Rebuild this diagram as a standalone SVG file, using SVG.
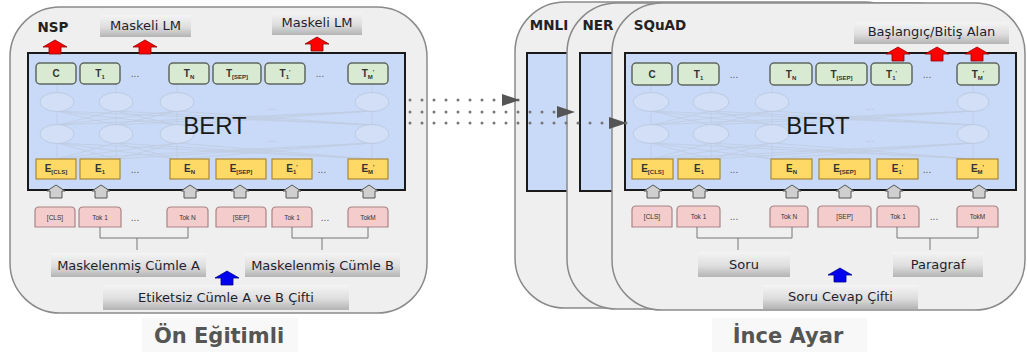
<svg xmlns="http://www.w3.org/2000/svg" width="1027" height="352" viewBox="0 0 1027 352">
<style>
.panel{fill:#efefef;stroke:#8a8a8a;stroke-width:1.5}
.bert{fill:#c9daf8;stroke:#1a1a1a;stroke-width:2}
.tg{fill:#d9ead3;stroke:#5f675f;stroke-width:1.5}
.ey{fill:#ffd966;stroke:#a8893a;stroke-width:1.2}
.tp{fill:#f4cccc;stroke:#a98485;stroke-width:1.2}
.lbl{fill:url(#lbl)}
.lt{font-family:"DejaVu Sans",sans-serif;font-size:13px;fill:#1e1e2e;text-anchor:middle}
.hd{font-family:"DejaVu Sans",sans-serif;font-weight:bold;font-size:13.5px;fill:#222;text-anchor:middle}
.cap{font-family:"DejaVu Sans",sans-serif;font-weight:bold;font-size:21px;fill:#555;text-anchor:middle}
.bt{font-family:"Liberation Sans",Arial,sans-serif;font-size:24px;fill:#1a1a1a;text-anchor:middle}
.bx{font-family:"Liberation Sans",Arial,sans-serif;font-weight:bold;font-size:10px;fill:#333;text-anchor:middle}
.sub{font-size:6px}
.tk{font-family:"Liberation Sans",Arial,sans-serif;font-size:6.5px;fill:#333;text-anchor:middle}
.dots{font-family:"Liberation Sans",Arial,sans-serif;font-size:10px;fill:#555;text-anchor:middle}
.fdots{font-family:"Liberation Sans",Arial,sans-serif;font-size:10px;fill:#b3c1da;text-anchor:middle}
.el{fill:#d2dff6;stroke:#bccae2;stroke-width:1}
.ml{stroke:#bfcbe0;stroke-width:0.8;fill:none}
.conn{stroke:#777;stroke-width:3;stroke-dasharray:0 12;stroke-linecap:round;fill:none}
.br{stroke:#777;stroke-width:1;fill:none}
.red{fill:#ff0000;stroke:#8b0000;stroke-width:0.8}
.blue{fill:#0000ee;stroke:#00008b;stroke-width:0.8}
.gray{fill:#cfcfcf;stroke:#555;stroke-width:1}
.capbg{fill:#f8f8f8}
</style>
<defs>
<linearGradient id="lbl" x1="0" y1="0" x2="0" y2="1">
<stop offset="0" stop-color="#f4f4f4"/><stop offset="0.55" stop-color="#dedede"/><stop offset="1" stop-color="#b4b4b4"/>
</linearGradient>
<path id="ra" d="M-12,7 L0,0 L12,7 L6,7 L6,14 L-6,14 L-6,7 Z"/>
<path id="ga" d="M0,0 L9,6 L6,6 L6,13 L-6,13 L-6,6 L-9,6 Z"/>
<marker id="ah" viewBox="0 0 18 12" refX="18" refY="6" markerWidth="18" markerHeight="12" markerUnits="userSpaceOnUse" orient="auto">
<path d="M0,0 L18,6 L0,12 Z" fill="#555"/>
</marker>
</defs>
<rect width="1027" height="352" fill="#ffffff"/>

<!-- LEFT: pre-training -->
<g id="pretrain">
<rect class="panel" x="10" y="7" width="417" height="306" rx="50"/>
<rect class="capbg" x="142" y="318" width="156" height="34"/>
<text class="cap" x="219" y="343">Ön Eğitimli</text>
<text class="hd" x="53" y="32">NSP</text>
<g id="mlm1"><rect class="lbl" x="100" y="15" width="91" height="22"/><text class="lt" x="145.5" y="30">Maskeli LM</text></g>
<g id="mlm2"><rect class="lbl" x="272" y="12" width="90" height="23"/><text class="lt" x="317" y="27">Maskeli LM</text></g>
<g id="bert-left">
<rect class="bert" x="28" y="53" width="377" height="137"/>
<path class="ml" d="M57,84V93M116,84V93M177,84V93M372,84V93M57,111V125M116,111V125M177,111V125M372,111V125M57,143V159M116,143V159M177,143V159M372,143V159"/>
<path class="ml" d="M57,111L116,125M57,111L177,125M57,111L372,125M116,111L57,125M116,111L177,125M116,111L372,125M177,111L57,125M177,111L116,125M177,111L372,125M372,111L57,125M372,111L116,125M372,111L177,125"/>
<path class="ml" d="M57,143L116,159M57,143L177,159M57,143L372,159M116,143L57,159M116,143L177,159M116,143L372,159M177,143L57,159M177,143L116,159M177,143L372,159M372,143L57,159M372,143L116,159M372,143L177,159"/>
<ellipse class="el" cx="57" cy="102" rx="17" ry="9.5"/><ellipse class="el" cx="116" cy="102" rx="17" ry="9.5"/><ellipse class="el" cx="177" cy="102" rx="17" ry="9.5"/><ellipse class="el" cx="372" cy="102" rx="17" ry="9.5"/>
<ellipse class="el" cx="57" cy="134" rx="17" ry="9.5"/><ellipse class="el" cx="116" cy="134" rx="17" ry="9.5"/><ellipse class="el" cx="177" cy="134" rx="17" ry="9.5"/><ellipse class="el" cx="372" cy="134" rx="17" ry="9.5"/>
<text class="fdots" x="272" y="110">...</text><text class="fdots" x="272" y="142">...</text>
<text class="bt" x="215" y="134">BERT</text>
</g>
<g id="L-C"><rect class="tg" x="36" y="63" width="40" height="21" rx="4"/><text class="bx" x="56" y="77">C</text></g>
<g id="L-T1"><rect class="tg" x="80" y="63" width="40" height="21" rx="4"/><text class="bx" x="100" y="77">T<tspan class="sub" dy="2">1</tspan></text></g>
<text class="dots" x="135" y="77">...</text>
<g id="L-TN"><rect class="tg" x="169" y="63" width="40" height="21" rx="4"/><text class="bx" x="189" y="77">T<tspan class="sub" dy="2">N</tspan></text></g>
<g id="L-TSEP"><rect class="tg" x="213" y="63" width="48" height="21" rx="4"/><text class="bx" x="237" y="77">T<tspan class="sub" dy="2">[SEP]</tspan></text></g>
<g id="L-T1p"><rect class="tg" x="265" y="63" width="40" height="21" rx="4"/><text class="bx" x="285" y="77">T<tspan class="sub" dy="2">1</tspan><tspan class="sub" dy="-5">'</tspan></text></g>
<text class="dots" x="320" y="77">...</text>
<g id="L-TM"><rect class="tg" x="348" y="63" width="40" height="21" rx="4"/><text class="bx" x="368" y="77">T<tspan class="sub" dy="2">M</tspan><tspan class="sub" dy="-5">'</tspan></text></g>

<g id="L-ECLS"><rect class="ey" x="36" y="159" width="40" height="20"/><text class="bx" x="56" y="172">E<tspan class="sub" dy="2">[CLS]</tspan></text></g>
<g id="L-E1"><rect class="ey" x="80" y="159" width="40" height="20"/><text class="bx" x="100" y="172">E<tspan class="sub" dy="2">1</tspan></text></g>
<text class="dots" x="135" y="173">...</text>
<g id="L-EN"><rect class="ey" x="170" y="159" width="39" height="20"/><text class="bx" x="189.5" y="172">E<tspan class="sub" dy="2">N</tspan></text></g>
<g id="L-ESEP"><rect class="ey" x="216" y="159" width="50" height="20"/><text class="bx" x="241" y="172">E<tspan class="sub" dy="2">[SEP]</tspan></text></g>
<g id="L-E1p"><rect class="ey" x="272" y="159" width="40" height="20"/><text class="bx" x="292" y="172">E<tspan class="sub" dy="2">1</tspan><tspan class="sub" dy="-5">'</tspan></text></g>
<text class="dots" x="322" y="173">...</text>
<g id="L-EM"><rect class="ey" x="348" y="159" width="40" height="20"/><text class="bx" x="368" y="172">E<tspan class="sub" dy="2">M</tspan><tspan class="sub" dy="-5">'</tspan></text></g>

<g id="L-up">
<use href="#ga" class="gray" x="56" y="185"/><use href="#ga" class="gray" x="101" y="185"/><use href="#ga" class="gray" x="190" y="185"/><use href="#ga" class="gray" x="240" y="185"/><use href="#ga" class="gray" x="292" y="185"/><use href="#ga" class="gray" x="369" y="185"/>
</g>

<g id="L-tCLS"><path class="tp" d="M35,227V211Q35,207 39,207H71Q75,207 75,211V227Z"/><text class="tk" x="55" y="219.5">[CLS]</text></g>
<g id="L-tok1"><path class="tp" d="M79,227V211Q79,207 83,207H117Q121,207 121,211V227Z"/><text class="tk" x="100" y="219.5">Tok 1</text></g>
<text class="dots" x="135" y="221">...</text>
<g id="L-tokN"><path class="tp" d="M167,227V211Q167,207 171,207H204Q208,207 208,211V227Z"/><text class="tk" x="187.5" y="219.5">Tok N</text></g>
<g id="L-tSEP"><path class="tp" d="M216,227V211Q216,207 220,207H262Q266,207 266,211V227Z"/><text class="tk" x="241" y="219.5">[SEP]</text></g>
<g id="L-tok1p"><path class="tp" d="M272,227V211Q272,207 276,207H308Q312,207 312,211V227Z"/><text class="tk" x="292" y="219.5">Tok 1</text></g>
<text class="dots" x="325" y="221">...</text>
<g id="L-tokM"><path class="tp" d="M348,227V211Q348,207 352,207H384Q388,207 388,211V227Z"/><text class="tk" x="368" y="219.5">TokM</text></g>

<g id="sentA"><rect class="lbl" x="51" y="253" width="155" height="24"/><text class="lt" x="128.5" y="269.5">Maskelenmiş Cümle A</text></g>
<g id="sentB"><rect class="lbl" x="245" y="253" width="155" height="24"/><text class="lt" x="322.5" y="269.5">Maskelenmiş Cümle B</text></g>
<g id="pairL"><rect class="lbl" x="103" y="285" width="246" height="25"/><text class="lt" x="226" y="302">Etiketsiz Cümle A ve B Çifti</text></g>
<use href="#ra" class="blue" x="227" y="271"/>
<use href="#ra" class="red" x="55" y="40"/><use href="#ra" class="red" x="145" y="40"/><use href="#ra" class="red" x="317" y="37"/>
</g>

<!-- RIGHT: fine-tuning -->
<g id="mnli">
<rect class="panel" x="515" y="2" width="400" height="306" rx="50"/>
<rect class="bert" x="527" y="53" width="80" height="138"/>
<text class="hd" x="549" y="30">MNLI</text>
</g>
<g id="ner">
<rect class="panel" x="567" y="3" width="400" height="306" rx="50"/>
<rect class="bert" x="580" y="53" width="80" height="138"/>
<text class="hd" x="598" y="30">NER</text>
</g>
<g id="squad">
<rect class="panel" x="612" y="3" width="413" height="307" rx="50"/>
<text class="hd" x="660" y="30">SQuAD</text>
<rect class="capbg" x="712" y="318" width="155" height="34"/>
<text class="cap" x="788" y="343">İnce Ayar</text>
<g id="span"><rect class="lbl" x="854" y="22" width="155" height="22"/><text class="lt" x="931.5" y="36">Başlangıç/Bitiş Alan</text></g>
<g id="bert-right">
<rect class="bert" x="625" y="53" width="391" height="137"/>
<path class="ml" d="M651,85V93M711,85V93M772,85V93M973,85V93M651,111V125M711,111V125M772,111V125M973,111V125M651,143V159M711,143V159M772,143V159M973,143V159"/>
<path class="ml" d="M651,111L711,125M651,111L772,125M651,111L973,125M711,111L651,125M711,111L772,125M711,111L973,125M772,111L651,125M772,111L711,125M772,111L973,125M973,111L651,125M973,111L711,125M973,111L772,125"/>
<path class="ml" d="M651,143L711,159M651,143L772,159M651,143L973,159M711,143L651,159M711,143L772,159M711,143L973,159M772,143L651,159M772,143L711,159M772,143L973,159M973,143L651,159M973,143L711,159M973,143L772,159"/>
<ellipse class="el" cx="651" cy="102" rx="18" ry="9.5"/><ellipse class="el" cx="711" cy="102" rx="18" ry="9.5"/><ellipse class="el" cx="772" cy="102" rx="17" ry="9.5"/><ellipse class="el" cx="973" cy="102" rx="16" ry="9.5"/>
<ellipse class="el" cx="651" cy="134" rx="18" ry="9.5"/><ellipse class="el" cx="711" cy="134" rx="18" ry="9.5"/><ellipse class="el" cx="772" cy="134" rx="17" ry="9.5"/><ellipse class="el" cx="973" cy="134" rx="16" ry="9.5"/>
<text class="fdots" x="870" y="110">...</text><text class="fdots" x="870" y="142">...</text>
<text class="bt" x="818" y="134">BERT</text>
</g>
<g id="R-C"><rect class="tg" x="632" y="63" width="40" height="22" rx="4"/><text class="bx" x="652" y="78">C</text></g>
<g id="R-T1"><rect class="tg" x="678" y="63" width="41" height="22" rx="4"/><text class="bx" x="698.5" y="78">T<tspan class="sub" dy="2">1</tspan></text></g>
<text class="dots" x="734" y="78">...</text>
<g id="R-TN"><rect class="tg" x="770" y="63" width="42" height="22" rx="4"/><text class="bx" x="791" y="78">T<tspan class="sub" dy="2">N</tspan></text></g>
<g id="R-TSEP"><rect class="tg" x="816" y="63" width="51" height="22" rx="4"/><text class="bx" x="841.5" y="78">T<tspan class="sub" dy="2">[SEP]</tspan></text></g>
<g id="R-T1p"><rect class="tg" x="871" y="63" width="41" height="22" rx="4"/><text class="bx" x="891.5" y="78">T<tspan class="sub" dy="2">1</tspan><tspan class="sub" dy="-5">'</tspan></text></g>
<text class="dots" x="927" y="78">...</text>
<g id="R-TM"><rect class="tg" x="957" y="63" width="42" height="22" rx="4"/><text class="bx" x="978" y="78">T<tspan class="sub" dy="2">M</tspan><tspan class="sub" dy="-5">'</tspan></text></g>

<g id="R-ECLS"><rect class="ey" x="632" y="159" width="41" height="20"/><text class="bx" x="652.5" y="172">E<tspan class="sub" dy="2">[CLS]</tspan></text></g>
<g id="R-E1"><rect class="ey" x="678" y="159" width="42" height="20"/><text class="bx" x="699" y="172">E<tspan class="sub" dy="2">1</tspan></text></g>
<text class="dots" x="734" y="173">...</text>
<g id="R-EN"><rect class="ey" x="771" y="159" width="41" height="20"/><text class="bx" x="791.5" y="172">E<tspan class="sub" dy="2">N</tspan></text></g>
<g id="R-ESEP"><rect class="ey" x="819" y="159" width="51" height="20"/><text class="bx" x="844.5" y="172">E<tspan class="sub" dy="2">[SEP]</tspan></text></g>
<g id="R-E1p"><rect class="ey" x="877" y="159" width="41" height="20"/><text class="bx" x="897.5" y="172">E<tspan class="sub" dy="2">1</tspan><tspan class="sub" dy="-5">'</tspan></text></g>
<text class="dots" x="927" y="173">...</text>
<g id="R-EM"><rect class="ey" x="957" y="159" width="41" height="20"/><text class="bx" x="977.5" y="172">E<tspan class="sub" dy="2">M</tspan><tspan class="sub" dy="-5">'</tspan></text></g>

<g id="R-up">
<use href="#ga" class="gray" x="653" y="185"/><use href="#ga" class="gray" x="699" y="185"/><use href="#ga" class="gray" x="792" y="185"/><use href="#ga" class="gray" x="845" y="185"/><use href="#ga" class="gray" x="894" y="185"/><use href="#ga" class="gray" x="979" y="185"/>
</g>

<g id="R-tCLS"><path class="tp" d="M632,227V210Q632,206 636,206H668Q672,206 672,210V227Z"/><text class="tk" x="652" y="219">[CLS]</text></g>
<g id="R-tok1"><path class="tp" d="M677,227V210Q677,206 681,206H716Q720,206 720,210V227Z"/><text class="tk" x="698.5" y="219">Tok 1</text></g>
<text class="dots" x="734" y="220">...</text>
<g id="R-tokN"><path class="tp" d="M770,227V210Q770,206 774,206H804Q808,206 808,210V227Z"/><text class="tk" x="789" y="219">Tok N</text></g>
<g id="R-tSEP"><path class="tp" d="M818,227V210Q818,206 822,206H867Q871,206 871,210V227Z"/><text class="tk" x="844.5" y="219">[SEP]</text></g>
<g id="R-tok1p"><path class="tp" d="M877,227V210Q877,206 881,206H915Q919,206 919,210V227Z"/><text class="tk" x="898" y="219">Tok 1</text></g>
<text class="dots" x="934" y="220">...</text>
<g id="R-tokM"><path class="tp" d="M957,227V210Q957,206 961,206H994Q998,206 998,210V227Z"/><text class="tk" x="977.5" y="219">TokM</text></g>

<g id="soru"><rect class="lbl" x="698" y="252" width="92" height="25"/><text class="lt" x="744" y="269">Soru</text></g>
<g id="paragraf"><rect class="lbl" x="893" y="252" width="90" height="25"/><text class="lt" x="938" y="269">Paragraf</text></g>
<g id="pairR"><rect class="lbl" x="763" y="285" width="155" height="24"/><text class="lt" x="840.5" y="301">Soru Cevap Çifti</text></g>
<use href="#ra" class="blue" x="840" y="268"/>
<use href="#ra" class="red" x="898" y="47"/><use href="#ra" class="red" x="937" y="47"/><use href="#ra" class="red" x="977" y="47"/>
</g>

<g id="connectors">
<path class="br" d="M100,227V238H188V227M137,238V250"/>
<path class="br" d="M292,227V238H368V227M322,238V250"/>
<path class="br" d="M697,227V238H792V227M738,238V250"/>
<path class="br" d="M897,227V238H978V227M930,238V250"/>
<path class="conn" d="M410,100H520" marker-end="url(#ah)"/>
<path class="conn" d="M410,112H575" marker-end="url(#ah)"/>
<path class="conn" d="M410,123H627" marker-end="url(#ah)"/>
</g>
</svg>
